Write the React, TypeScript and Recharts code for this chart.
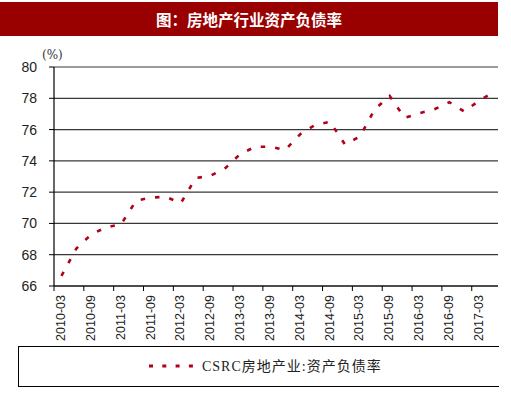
import React from "react";
import { LineChart, Line, XAxis, YAxis, CartesianGrid } from "recharts";

const quarters = [
  "2010-03","2010-06","2010-09","2010-12",
  "2011-03","2011-06","2011-09","2011-12",
  "2012-03","2012-06","2012-09","2012-12",
  "2013-03","2013-06","2013-09","2013-12",
  "2014-03","2014-06","2014-09","2014-12",
  "2015-03","2015-06","2015-09","2015-12",
  "2016-03","2016-06","2016-09","2016-12",
  "2017-03","2017-06",
];

const debtRatio = [
  66.65, 68.4, 69.3, 69.75,
  69.95, 71.45, 71.65, 71.7,
  71.3, 72.9, 73.05, 73.55,
  74.45, 74.9, 74.9, 74.7,
  75.7, 76.3, 76.5, 75.05,
  75.55, 77.3, 78.15, 76.75,
  77.05, 77.3, 77.75, 77.15,
  77.85, 78.4,
];

const yTicks = [66, 68, 70, 72, 74, 76, 78, 80];
const xTicks = [0, 2, 4, 6, 8, 10, 12, 14, 16, 18, 20, 22, 24, 26, 28];

const TITLE = "图：房地产行业资产负债率";
const SERIES = "CSRC房地产业:资产负债率";
const UNIT = "(%)";

const data = quarters.map((q, i) => ({ x: i + 0.5, q, v: debtRatio[i] }));

const RED = "#B0001C";

const XTick = (props: any) => {
  const { x, y, payload } = props;
  return (
    <text
      transform={`translate(${x + 7},${y + 1}) rotate(-90)`}
      textAnchor="end"
      dominantBaseline="central"
      fontSize={12.5}
      fontFamily="'Liberation Sans', Arial, sans-serif"
      fill="#222"
    >
      {quarters[payload.value]}
    </text>
  );
};

export default function App() {
  return (
    <div style={{ position: "absolute", left: 0, top: 0, width: 511, height: 394, background: "#fff" }}>
      <div
        style={{
          position: "absolute",
          left: 0,
          top: 2,
          width: 498,
          height: 34,
          background: "#990000",
          color: "#fff",
          fontFamily: "'Noto Sans CJK SC', sans-serif",
          fontWeight: 700,
          fontSize: 15.5,
          lineHeight: "34px",
          textAlign: "center",
        }}
      >
        {TITLE}
      </div>
      <div
        style={{
          position: "absolute",
          left: 42,
          top: 48,
          fontSize: 12,
          fontFamily: "'DejaVu Serif', serif",
          color: "#333",
        }}
      >
        {UNIT}
      </div>
      <LineChart
        width={511}
        height={394}
        data={data}
        margin={{ top: 67, right: 13, bottom: 48, left: 0 }}
        style={{ position: "absolute", left: 0, top: 0 }}
      >
        <CartesianGrid horizontal vertical={false} stroke="#222" strokeWidth={1.2} strokeOpacity={0.9} />
        <XAxis
          dataKey="x"
          type="number"
          domain={[0, 29.76]}
          ticks={xTicks}
          interval={0}
          allowDataOverflow
          height={60}
          tickSize={5}
          tickMargin={3}
          axisLine={{ stroke: "#000", strokeWidth: 1.2 }}
          tickLine={{ stroke: "#000" }}
          tick={<XTick />}
        />
        <YAxis
          type="number"
          domain={[66, 80]}
          ticks={yTicks}
          interval={0}
          width={54}
          tickSize={5}
          tickMargin={12}
          axisLine={{ stroke: "#000", strokeWidth: 1.2 }}
          tickLine={{ stroke: "#000" }}
          tick={{ fontSize: 14, fill: "#222", fontFamily: "'Liberation Sans', Arial, sans-serif" }}
        />
        <Line
          type="linear"
          dataKey="v"
          stroke={RED}
          strokeWidth={2.6}
          strokeDasharray="4.5 10"
          dot={false}
          isAnimationActive={false}
        />
      </LineChart>
      <div
        style={{
          position: "absolute",
          left: 18,
          top: 346,
          width: 480,
          height: 39,
          borderTop: "1.5px solid #000",
          borderLeft: "1.5px solid #000",
          borderBottom: "1.5px solid #000",
        }}
      />
      <svg style={{ position: "absolute", left: 0, top: 0 }} width={511} height={394}>
        <line x1={149} y1={366} x2={200} y2={366} stroke={RED} strokeWidth={3} strokeDasharray="4 9.3" />
        <text
          x={202}
          y={366}
          dominantBaseline="central"
          fontSize={14}
          fontFamily="'Liberation Serif', 'Noto Sans CJK SC', serif"
          fill="#222"
          letterSpacing={1}
        >
          {SERIES}
        </text>
      </svg>
    </div>
  );
}
